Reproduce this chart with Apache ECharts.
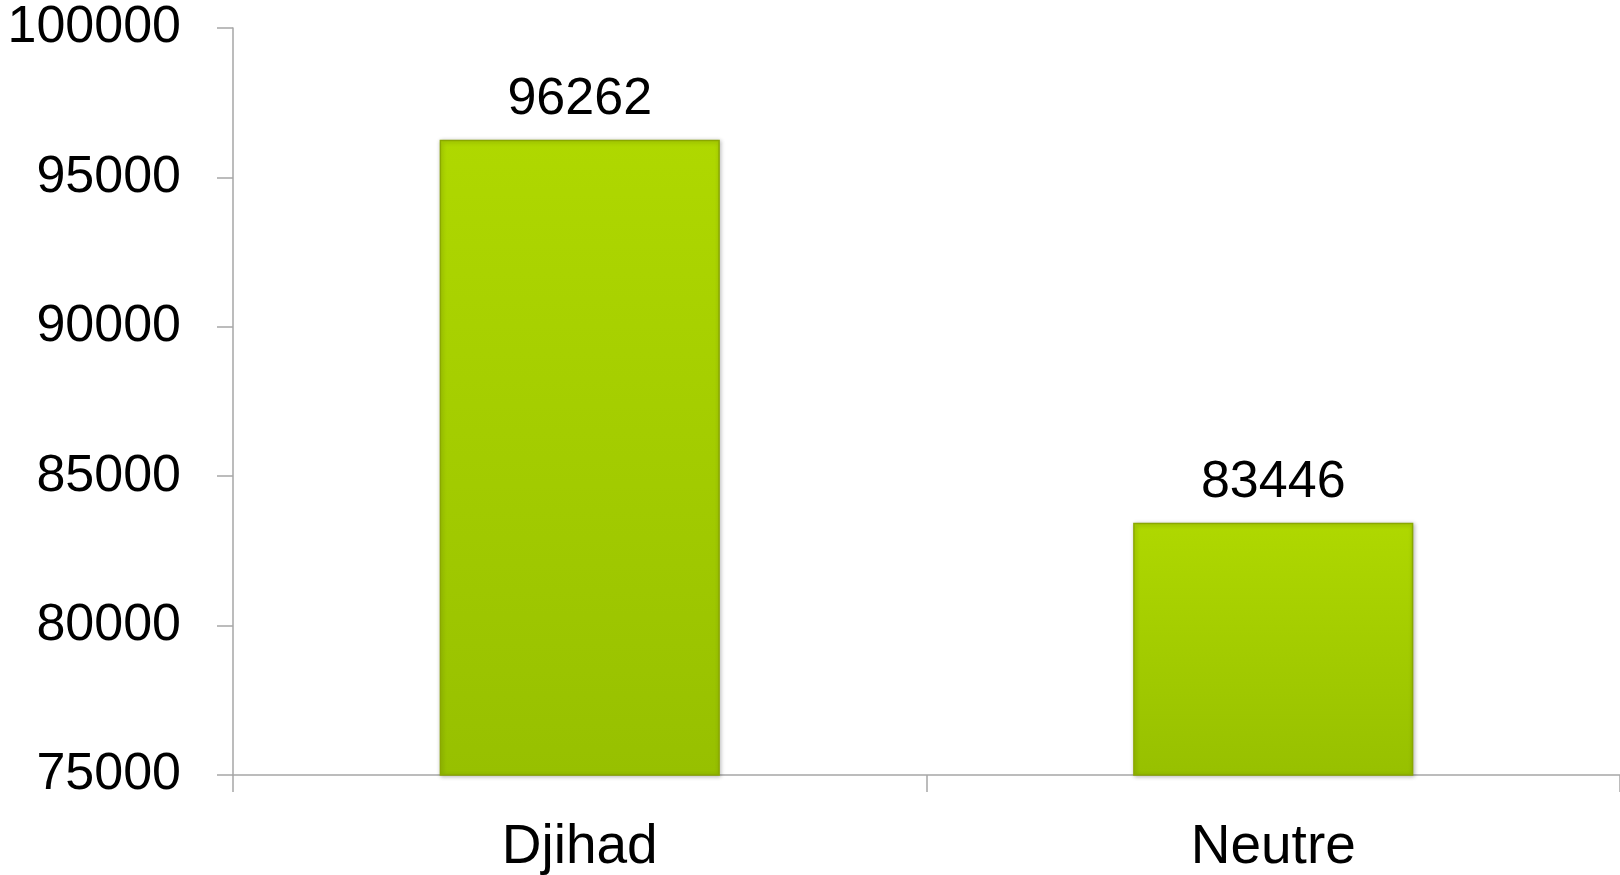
<!DOCTYPE html>
<html>
<head>
<meta charset="utf-8">
<script src="https://cdn.jsdelivr.net/npm/echarts@6/dist/echarts.min.js"></script>
<style>
html,body{margin:0;padding:0;background:#fff;}
#main{width:1620px;height:875px;}
</style>
</head>
<body>
<div id="main"></div>
<script>
const categories = ['Djihad', 'Neutre'];
const values = [96262, 83446];
const yTicks = [75000, 80000, 85000, 90000, 95000, 100000];

const chart = echarts.init(document.getElementById('main'), null, {renderer: 'canvas'});
const font = 'Liberation Sans';
chart.setOption({
  animation: false,
  backgroundColor: '#ffffff',
  grid: {left: 233, top: 28, right: 0, bottom: 97, containLabel: false},
  xAxis: {
    type: 'category',
    data: categories,
    axisLine: {lineStyle: {color: '#a6a6a6', width: 1.5}},
    axisTick: {show: true, alignWithLabel: false, length: 17, lineStyle: {color: '#a6a6a6', width: 1.5}},
    axisLabel: {color: '#000', fontFamily: font, fontSize: 55, margin: 45}
  },
  yAxis: {
    type: 'value',
    min: yTicks[0],
    max: yTicks[yTicks.length - 1],
    interval: 5000,
    axisLine: {show: true, lineStyle: {color: '#a6a6a6', width: 1.5}},
    axisTick: {show: true, length: 16, lineStyle: {color: '#a6a6a6', width: 1.5}},
    splitLine: {show: false},
    axisLabel: {color: '#000', fontFamily: font, fontSize: 52, margin: 52,
      formatter: function (v) { return String(v); }}
  },
  series: [{
    type: 'bar',
    data: values,
    barWidth: '40.4%',
    itemStyle: {
      color: new echarts.graphic.LinearGradient(0, 0, 0, 1, [
        {offset: 0, color: '#afd800'},
        {offset: 1, color: '#97c000'}
      ]),
      borderColor: '#8aa800',
      borderWidth: 1.5,
      shadowColor: 'rgba(0,0,0,0.25)',
      shadowBlur: 4,
      shadowOffsetX: 1,
      shadowOffsetY: 1
    },
    label: {
      show: true,
      position: 'top',
      distance: 14,
      color: '#000',
      fontFamily: font,
      fontSize: 52
    }
  }]
});
</script>
</body>
</html>
